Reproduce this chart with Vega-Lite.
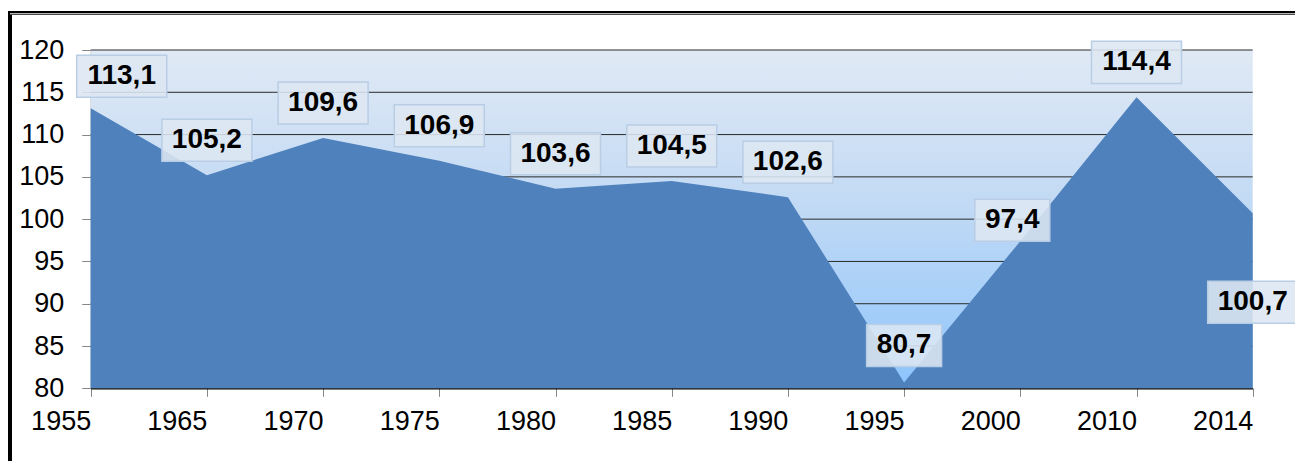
{
  "$schema": "https://vega.github.io/schema/vega-lite/v6.json",
  "autosize": {"type": "none"},
  "padding": {"left": 10, "top": 13, "right": 0, "bottom": 0},
  "width": 1285,
  "height": 448,
  "background": "white",
  "config": {
    "view": {"stroke": "black", "strokeWidth": 4, "strokeDash": [1285, 1733, 460], "strokeCap": "butt"},
    "locale": {"number": {"decimal": ",", "thousands": " ", "grouping": [3], "currency": ["", ""]}},
    "font": "Liberation Sans"
  },
  "datasets": {
    "main": [
      {"year": 1955, "value": 113.1},
      {"year": 1965, "value": 105.2},
      {"year": 1970, "value": 109.6},
      {"year": 1975, "value": 106.9},
      {"year": 1980, "value": 103.6},
      {"year": 1985, "value": 104.5},
      {"year": 1990, "value": 102.6},
      {"year": 1995, "value": 80.7},
      {"year": 2000, "value": 97.4},
      {"year": 2010, "value": 114.4},
      {"year": 2014, "value": 100.7}
    ],
    "grid": [
      {"g": 85}, {"g": 90}, {"g": 95}, {"g": 100}, {"g": 105}, {"g": 110}, {"g": 115}, {"g": 120}
    ],
    "one": [{"k": 1}]
  },
  "layer": [
    {
      "data": {"name": "one"},
      "mark": {
        "type": "rect",
        "fill": {
          "gradient": "linear", "x1": 0, "y1": 0, "x2": 0, "y2": 1,
          "stops": [
            {"offset": 0, "color": "#e0e9f5"},
            {"offset": 0.45, "color": "#c2daf4"},
            {"offset": 0.75, "color": "#a6cff9"},
            {"offset": 1, "color": "#8bc4fb"}
          ]
        }
      },
      "encoding": {
        "x": {"datum": 1955, "type": "ordinal"},
        "x2": {"datum": 2014},
        "y": {"datum": 120, "type": "quantitative"},
        "y2": {"datum": 80}
      }
    },
    {
      "data": {"name": "grid"},
      "mark": {"type": "rule", "stroke": "#2a2a2a", "strokeWidth": 1},
      "encoding": {
        "x": {"datum": 1955, "type": "ordinal"},
        "x2": {"datum": 2014},
        "y": {"field": "g", "type": "quantitative"}
      }
    },
    {
      "data": {"name": "main"},
      "mark": {"type": "area", "color": "#4f81bd", "opacity": 1},
      "encoding": {
        "x": {
          "field": "year", "type": "ordinal",
          "scale": {"type": "point", "range": [80.7, 1242.7], "padding": 0},
          "axis": {
            "title": null, "labelAngle": 0, "labelOverlap": false, "labelFlush": false,
            "offset": -72.7, "domainColor": "black", "domainWidth": 1.2,
            "tickColor": "#868686", "tickSize": 8, "tickWidth": 1,
            "labelPadding": 25, "labelFontSize": 27, "labelColor": "black",
            "labelFont": "Liberation Sans", "grid": false
          }
        },
        "y": {
          "field": "value", "type": "quantitative",
          "scale": {"domain": [80, 120], "range": [375.3, 37], "zero": false, "nice": false},
          "axis": {
            "title": null, "values": [80, 85, 90, 95, 100, 105, 110, 115, 120],
            "offset": -80.7, "domainColor": "#868686", "domainWidth": 1,
            "tickColor": "#868686", "tickSize": 9, "labelPadding": 18,
            "labelFontSize": 27, "labelColor": "black", "labelFont": "Liberation Sans",
            "grid": false
          }
        },
        "y2": {"datum": 80}
      }
    },
    {
      "data": {"name": "one"},
      "mark": {"type": "rule", "stroke": "white", "strokeWidth": 1},
      "encoding": {"y": {"datum": 124.28, "type": "quantitative"}}
    },
    {
      "data": {"name": "main"},
      "transform": [{"filter": "(datum.year >= 1965 && datum.year <= 1990) || datum.year == 2010"}],
      "mark": {"type": "point", "shape": "M-1,-0.467L1,-0.467L1,0.467L-1,0.467Z", "size": 8100, "filled": true, "fill": "#dde7f3", "fillOpacity": 0.88, "stroke": "#b9cde5", "strokeWidth": 1.5, "opacity": 1, "yOffset": -35},
      "encoding": {"x": {"field": "year", "type": "ordinal"}, "y": {"field": "value", "type": "quantitative"}}
    },
    {
      "data": {"name": "main"},
      "transform": [{"filter": "datum.year == 1995"}],
      "mark": {"type": "point", "shape": "M-1,-0.56L1,-0.56L1,0.56L-1,0.56Z", "size": 5625, "filled": true, "fill": "#dde7f3", "fillOpacity": 0.88, "stroke": "#b9cde5", "strokeWidth": 1.5, "opacity": 1, "yOffset": -37},
      "encoding": {"x": {"field": "year", "type": "ordinal"}, "y": {"field": "value", "type": "quantitative"}}
    },
    {
      "data": {"name": "main"},
      "transform": [{"filter": "datum.year == 1955"}],
      "mark": {"type": "point", "shape": "M-1,-0.467L1,-0.467L1,0.467L-1,0.467Z", "size": 8100, "filled": true, "fill": "#dde7f3", "fillOpacity": 0.88, "stroke": "#b9cde5", "strokeWidth": 1.5, "opacity": 1, "xOffset": 31, "yOffset": -32},
      "encoding": {"x": {"field": "year", "type": "ordinal"}, "y": {"field": "value", "type": "quantitative"}}
    },
    {
      "data": {"name": "main"},
      "transform": [{"filter": "datum.year == 2000"}],
      "mark": {"type": "point", "shape": "M-1,-0.56L1,-0.56L1,0.56L-1,0.56Z", "size": 5625, "filled": true, "fill": "#dde7f3", "fillOpacity": 0.88, "stroke": "#b9cde5", "strokeWidth": 1.5, "opacity": 1, "xOffset": -8, "yOffset": -21},
      "encoding": {"x": {"field": "year", "type": "ordinal"}, "y": {"field": "value", "type": "quantitative"}}
    },
    {
      "data": {"name": "main"},
      "transform": [{"filter": "datum.year == 2014"}],
      "mark": {"type": "point", "shape": "M-1,-0.467L1,-0.467L1,0.467L-1,0.467Z", "size": 8100, "filled": true, "fill": "#dde7f3", "fillOpacity": 0.88, "stroke": "#b9cde5", "strokeWidth": 1.5, "opacity": 1, "yOffset": 89},
      "encoding": {"x": {"field": "year", "type": "ordinal"}, "y": {"field": "value", "type": "quantitative"}}
    },
    {
      "data": {"name": "main"},
      "transform": [{"filter": "(datum.year >= 1965 && datum.year <= 1990) || datum.year == 2010"}],
      "mark": {"type": "text", "font": "Liberation Sans", "fontWeight": "bold", "fontSize": 28, "color": "black", "align": "center", "baseline": "middle", "dy": -35},
      "encoding": {"x": {"field": "year", "type": "ordinal"}, "y": {"field": "value", "type": "quantitative"}, "text": {"field": "value", "type": "quantitative", "format": ".1f"}}
    },
    {
      "data": {"name": "main"},
      "transform": [{"filter": "datum.year == 1995"}],
      "mark": {"type": "text", "font": "Liberation Sans", "fontWeight": "bold", "fontSize": 28, "color": "black", "align": "center", "baseline": "middle", "dy": -37},
      "encoding": {"x": {"field": "year", "type": "ordinal"}, "y": {"field": "value", "type": "quantitative"}, "text": {"field": "value", "type": "quantitative", "format": ".1f"}}
    },
    {
      "data": {"name": "main"},
      "transform": [{"filter": "datum.year == 1955"}],
      "mark": {"type": "text", "font": "Liberation Sans", "fontWeight": "bold", "fontSize": 28, "color": "black", "align": "center", "baseline": "middle", "dx": 31, "dy": -32},
      "encoding": {"x": {"field": "year", "type": "ordinal"}, "y": {"field": "value", "type": "quantitative"}, "text": {"field": "value", "type": "quantitative", "format": ".1f"}}
    },
    {
      "data": {"name": "main"},
      "transform": [{"filter": "datum.year == 2000"}],
      "mark": {"type": "text", "font": "Liberation Sans", "fontWeight": "bold", "fontSize": 28, "color": "black", "align": "center", "baseline": "middle", "dx": -8, "dy": -21},
      "encoding": {"x": {"field": "year", "type": "ordinal"}, "y": {"field": "value", "type": "quantitative"}, "text": {"field": "value", "type": "quantitative", "format": ".1f"}}
    },
    {
      "data": {"name": "main"},
      "transform": [{"filter": "datum.year == 2014"}],
      "mark": {"type": "text", "font": "Liberation Sans", "fontWeight": "bold", "fontSize": 28, "color": "black", "align": "center", "baseline": "middle", "dy": 89},
      "encoding": {"x": {"field": "year", "type": "ordinal"}, "y": {"field": "value", "type": "quantitative"}, "text": {"field": "value", "type": "quantitative", "format": ".1f"}}
    }
  ]
}
